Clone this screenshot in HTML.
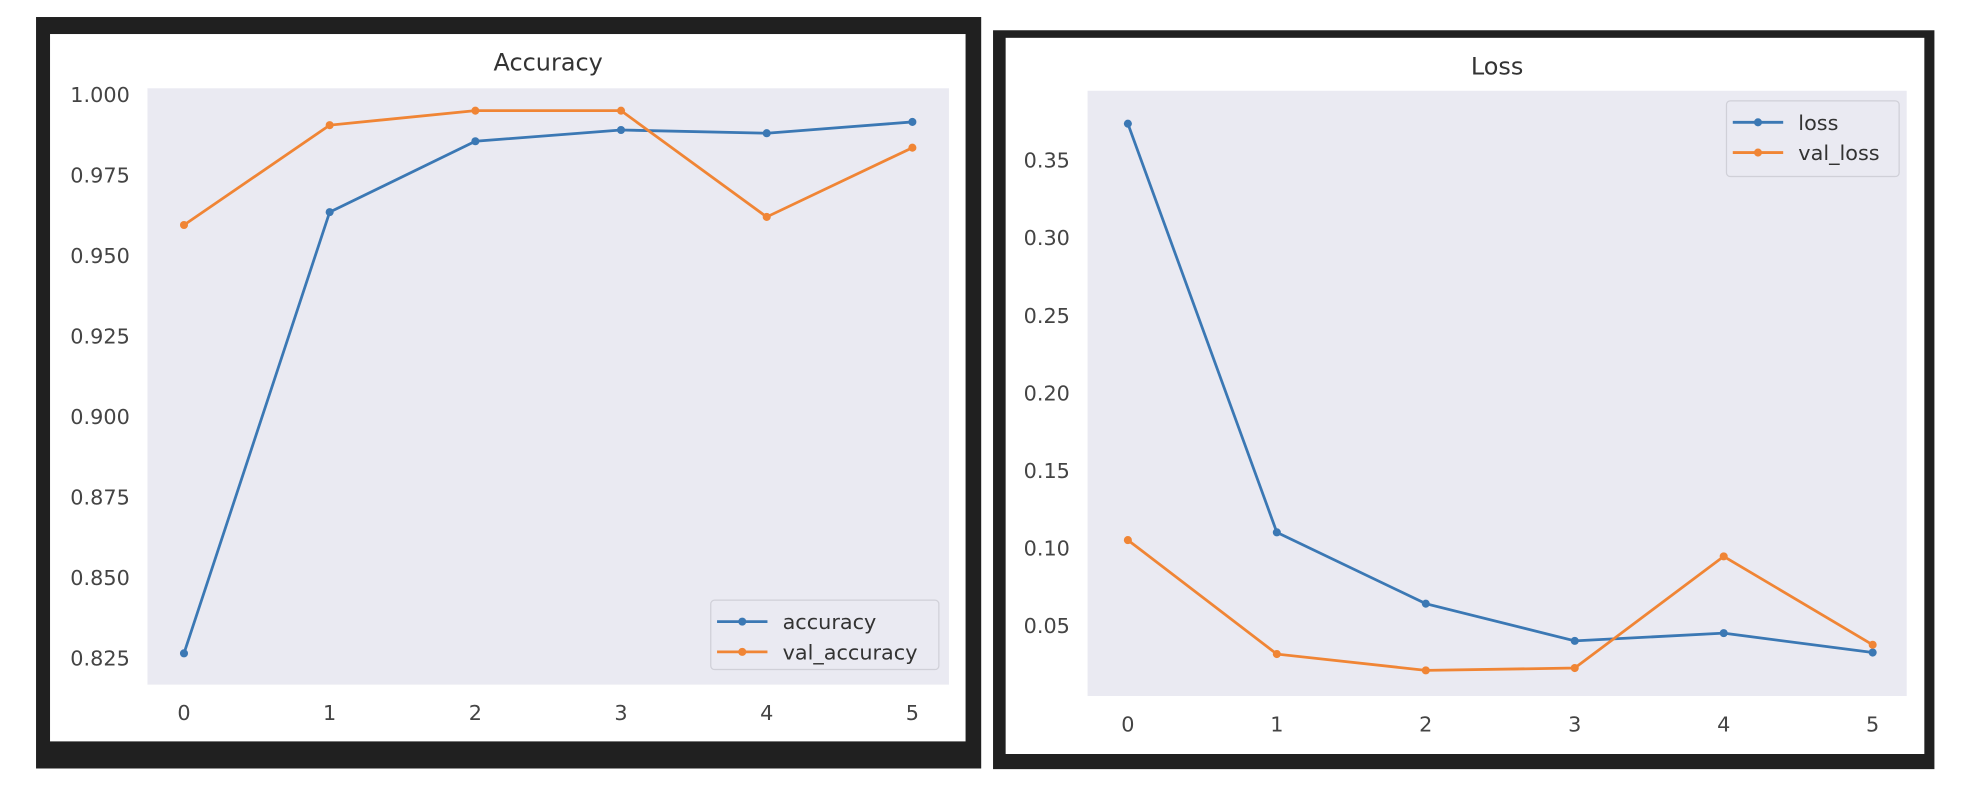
<!DOCTYPE html>
<html><head><meta charset="utf-8"><style>
html,body{margin:0;padding:0;background:#fff;}
svg{display:block;font-family:"DejaVu Sans","Liberation Sans",sans-serif;}
</style></head><body>
<svg id="root" width="1976" height="812" viewBox="0 0 1568 644" preserveAspectRatio="none">
  <rect x="28.6" y="13.5" width="750" height="596" fill="#202020"/>
  <rect x="39.7" y="27" width="726.5" height="561" fill="#fff"/>
  <rect x="788" y="24" width="747" height="586" fill="#202020"/>
  <rect x="798" y="30" width="729" height="568" fill="#fff"/>
  <g id="accChart"></g>
  <g id="lossChart"></g>
</svg>
<script>
const epochs = [0,1,2,3,4,5];
const accuracy = [0.8265,0.9635,0.9855,0.9890,0.9880,0.9915];
const valAccuracy = [0.9595,0.9905,0.9950,0.9950,0.9620,0.9835];
const accTicks = ["0.825","0.850","0.875","0.900","0.925","0.950","0.975","1.000"];
const loss = [0.3735,0.1100,0.0640,0.0400,0.0450,0.0325];
const valLoss = [0.1050,0.0315,0.0210,0.0225,0.0945,0.0375];
const lossTicks = ["0.05","0.10","0.15","0.20","0.25","0.30","0.35"];

const NS="http://www.w3.org/2000/svg";
function mk(parent,tag,attrs){const e=document.createElementNS(NS,tag);for(const k in attrs)e.setAttribute(k,attrs[k]);parent.appendChild(e);return e;}

function drawChart(g,cfg){
  const bg=mk(g,'rect',{x:cfg.px,y:cfg.py,width:cfg.pw,height:cfg.ph,fill:'#eaeaf2'});
  
  
  const t=mk(g,'text',{x:cfg.px+cfg.pw/2,y:cfg.titleY,'text-anchor':'middle','font-size':19,fill:'#333'});
  t.textContent=cfg.title;
  
  
  const xs=v=>cfg.x0+(v-epochs[0])*(cfg.x5-cfg.x0)/(epochs[epochs.length-1]-epochs[0]);
  const ys=v=>cfg.yA+(v-cfg.vA)*(cfg.yB-cfg.yA)/(cfg.vB-cfg.vA);
  cfg.ticks.forEach(l=>{
    const tt=mk(g,'text',{x:cfg.px-14,y:ys(parseFloat(l))+6,'text-anchor':'end','font-size':16.5,fill:'#444'});
    tt.textContent=l;
    
    
  });
  epochs.forEach(e=>{
    const tt=mk(g,'text',{x:xs(e),y:cfg.py+cfg.ph+28,'text-anchor':'middle','font-size':16.5,fill:'#444'});
    tt.textContent=String(e);
    
    
  });
  cfg.series.forEach(s=>{
    const pl=mk(g,'polyline',{points:s.data.map((v,i)=>xs(epochs[i])+','+ys(v)).join(' '),fill:'none',stroke:s.color,'stroke-width':2.2});
    
    
    s.data.forEach((v,i)=>{
      const c=mk(g,'circle',{cx:xs(epochs[i]),cy:ys(v),r:3.2,fill:s.color});
      
      
    });
  });
  const L=cfg.legend;
  const lg=mk(g,'g',{});
  
  
  mk(lg,'rect',{x:L.x,y:L.y,width:L.w,height:L.h,rx:3,fill:'#eaeaf2',stroke:'#d0d0d8','stroke-width':1});
  cfg.series.forEach((s,i)=>{
    const cy=L.y+17+i*24;
    const ent=mk(lg,'g',{});
    
    
    mk(ent,'line',{x1:L.x+5,y1:cy,x2:L.x+45,y2:cy,stroke:s.color,'stroke-width':2.2});
    mk(ent,'circle',{cx:L.x+25,cy:cy,r:3.2,fill:s.color});
    const tx=mk(ent,'text',{x:L.x+57,y:cy+6,'font-size':16.5,fill:'#333'});
    tx.textContent=s.name;
  });
}
drawChart(document.getElementById('accChart'),{
  title:'Accuracy',titleY:56,px:117,py:70,pw:636,ph:473,
  x0:146,x5:724,yA:522,vA:0.825,yB:75,vB:1.0,ticks:accTicks,
  series:[{name:'accuracy',data:accuracy,color:'#3b78b4'},{name:'val_accuracy',data:valAccuracy,color:'#f08535'}],
  legend:{x:564,y:476,w:181,h:55}
});
drawChart(document.getElementById('lossChart'),{
  title:'Loss',titleY:59,px:863,py:72,pw:650,ph:480,
  x0:895,x5:1486,yA:496,vA:0.05,yB:127,vB:0.35,ticks:lossTicks,
  series:[{name:'loss',data:loss,color:'#3b78b4'},{name:'val_loss',data:valLoss,color:'#f08535'}],
  legend:{x:1370,y:80,w:137,h:60}
});
</script>
</body></html>
